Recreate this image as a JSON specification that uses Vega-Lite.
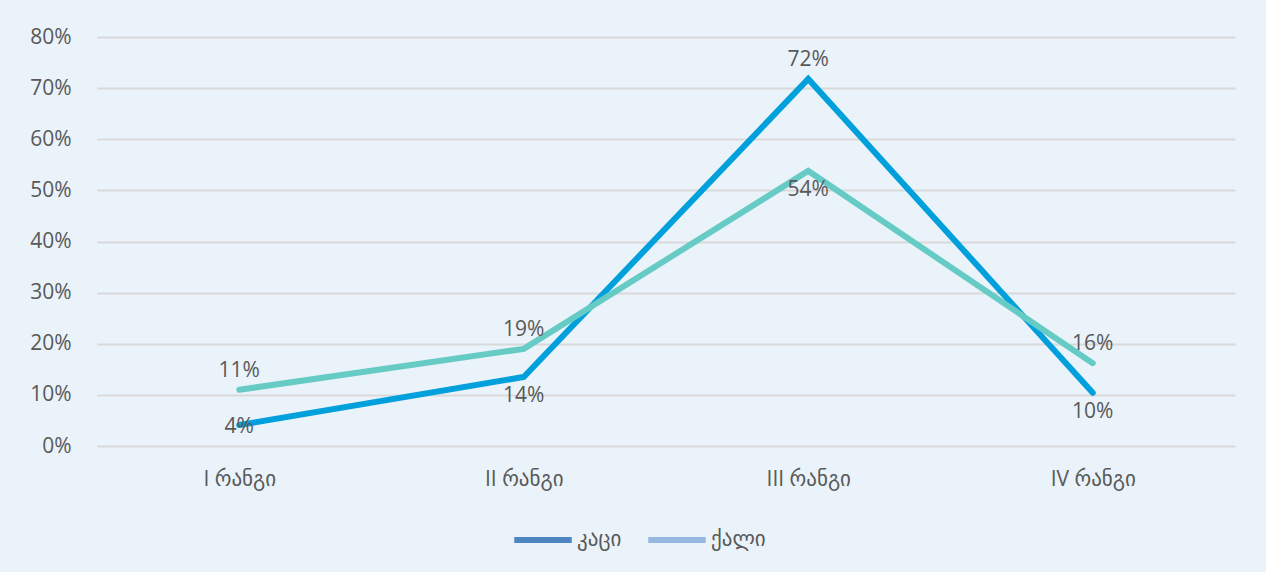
{
  "$schema": "https://vega.github.io/schema/vega-lite/v6.json",
  "width": 1138,
  "height": 409,
  "autosize": {"type": "none"},
  "padding": {"left": 97, "top": 37, "right": 31, "bottom": 126},
  "background": "#EAF3FA",
  "config": {
    "view": {"stroke": null},
    "font": "Open Sans, DejaVu Sans",
    "axis": {"labelFont": "Open Sans, DejaVu Sans", "labelFontSize": 21, "labelColor": "#595959", "titleColor": "#595959"},
    "legend": {"labelFont": "Open Sans, DejaVu Sans", "labelFontSize": 21, "labelColor": "#595959"}
  },
  "data": {
    "values": [
      {"rank": "I რანგი", "series": "კაცი", "value": 0.041},
      {"rank": "II რანგი", "series": "კაცი", "value": 0.135},
      {"rank": "III რანგი", "series": "კაცი", "value": 0.718},
      {"rank": "IV რანგი", "series": "კაცი", "value": 0.104},
      {"rank": "I რანგი", "series": "ქალი", "value": 0.11},
      {"rank": "II რანგი", "series": "ქალი", "value": 0.19},
      {"rank": "III რანგი", "series": "ქალი", "value": 0.538},
      {"rank": "IV რანგი", "series": "ქალი", "value": 0.162}
    ]
  },
  "encoding": {
    "x": {
      "field": "rank", "type": "ordinal", "sort": ["I რანგი", "II რანგი", "III რანგი", "IV რანგი"],
      "scale": {"type": "point", "padding": 0.5},
      "axis": {"title": null, "labelAngle": 0, "domain": false, "ticks": false, "labelPadding": 22, "grid": false}
    },
    "y": {
      "field": "value", "type": "quantitative",
      "scale": {"domain": [0, 0.8], "nice": false},
      "axis": {"title": null, "format": ".0%", "values": [0, 0.1, 0.2, 0.3, 0.4, 0.5, 0.6, 0.7, 0.8], "labelOverlap": false, "domain": false, "ticks": false, "labelPadding": 26, "gridColor": "#D9D9D9", "gridWidth": 2}
    }
  },
  "layer": [
    {
      "mark": {"type": "line", "strokeWidth": 6, "strokeCap": "round", "strokeJoin": "miter"},
      "encoding": {
        "detail": {"field": "series", "type": "nominal"},
        "stroke": {"condition": {"test": "datum.series === 'კაცი'", "value": "#00A0DC"}, "value": "#66CBC5"}
      }
    },
    {
      "transform": [{"filter": "false"}],
      "mark": {"type": "line", "strokeWidth": 5, "strokeCap": "round"},
      "encoding": {
        "color": {
          "field": "series", "type": "nominal",
          "scale": {"domain": ["კაცი", "ქალი"], "range": ["#4E86C1", "#95B8E0"]},
          "legend": {
            "title": null, "orient": "none", "legendX": 414, "legendY": 471, "direction": "horizontal",
            "symbolType": "stroke", "symbolSize": 3300, "symbolStrokeWidth": 6,
            "labelOffset": 2, "columnPadding": 14
          }
        }
      }
    },
    {
      "transform": [{"filter": "(datum.series === 'ქალი' && datum.rank !== 'III რანგი') || (datum.series === 'კაცი' && datum.rank === 'III რანგი')"}],
      "mark": {"type": "text", "dy": -19, "fontSize": 21, "color": "#595959"},
      "encoding": {"text": {"field": "value", "type": "quantitative", "format": ".0%"}}
    },
    {
      "transform": [{"filter": "(datum.series === 'ქალი' && datum.rank === 'III რანგი') || (datum.series === 'კაცი' && (datum.rank === 'II რანგი' || datum.rank === 'IV რანგი'))"}],
      "mark": {"type": "text", "dy": 19, "fontSize": 21, "color": "#595959"},
      "encoding": {"text": {"field": "value", "type": "quantitative", "format": ".0%"}}
    },
    {
      "transform": [{"filter": "datum.series === 'კაცი' && datum.rank === 'I რანგი'"}],
      "mark": {"type": "text", "dy": 2, "fontSize": 21, "color": "#595959"},
      "encoding": {"text": {"field": "value", "type": "quantitative", "format": ".0%"}}
    }
  ]
}
